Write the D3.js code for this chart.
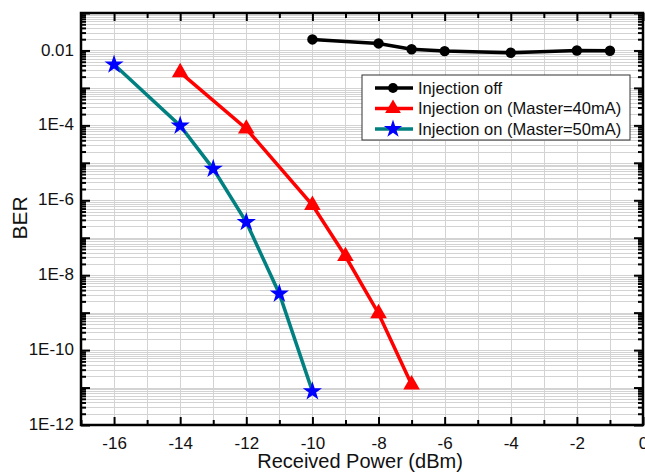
<!DOCTYPE html>
<html lang="en">
<head>
    <meta charset="UTF-8">
    <title>BER vs received power</title>
    <script src="https://d3js.org/d3.v7.min.js"></script>
    <style>
        body { margin: 0; background: #fff; }
        text { font-family: "Liberation Sans", Arial, sans-serif; fill: #111; }
    </style>
</head>
<body>
<svg width="645" height="473"></svg>

<script>
    // data
    var offPower = [-10, -8, -7, -6, -4, -2, -1];
    var offBer = [0.0197, 0.0154, 0.0108, 0.0096, 0.0087, 0.0100, 0.0098];

    var m40Power = [-14, -12, -10, -9, -8, -7];
    var m40Ber = [2.6e-3, 8.1e-5, 7.4e-7, 3.2e-8, 9.5e-10, 1.2e-11];

    var m50Power = [-16, -14, -13, -12, -11, -10];
    var m50Ber = [4.2e-3, 9.8e-5, 6.9e-6, 2.6e-7, 3.2e-9, 7.9e-12];

    var xTicks = [-16, -14, -12, -10, -8, -6, -4, -2, 0];
    var yTicks = [1e-2, 1e-4, 1e-6, 1e-8, 1e-10, 1e-12];
    var yTickLabels = ['0.01', '1E-4', '1E-6', '1E-8', '1E-10', '1E-12'];

    var seriesNames = ['Injection off', 'Injection on (Master=40mA)', 'Injection on (Master=50mA)'];
    var seriesColors = ['#000000', '#ff0000', '#008080'];
    var markerColors = ['#000000', '#ff0000', '#0000ff'];
    var markerTypes = [d3.symbolCircle, d3.symbolTriangle, d3.symbolStar];
    var markerSizes = [85, 120, 115];

    var svg = d3.select('svg');
    var pLeft = 81, pRight = 643, pTop = 13, pBottom = 425;

    var x = d3.scaleLinear().domain([-17, 0]).range([pLeft, pRight]);
    var y = d3.scaleLog().domain([1e-12, 0.1]).range([pBottom, pTop]);

    // minor values
    var xMinor = d3.range(-17, 1, 1);
    var yMinor = [];
    for (var e = -12; e < -1; e++) {
        for (var k = 1; k < 10; k++) yMinor.push(k * Math.pow(10, e));
    }
    var yMajor = d3.range(-12, 0).map(function (p) { return Math.pow(10, p); });

    // grid
    var grid = svg.append('g').attr('stroke', '#d3d3d3').attr('stroke-width', 1);
    grid.selectAll('.gx').data(xMinor).enter().append('line')
        .attr('x1', function (d) { return Math.round(x(d)) + 0.5; })
        .attr('x2', function (d) { return Math.round(x(d)) + 0.5; })
        .attr('y1', pTop).attr('y2', pBottom);
    grid.selectAll('.gy').data(yMinor).enter().append('line')
        .attr('x1', pLeft).attr('x2', pRight)
        .attr('y1', function (d) { return Math.round(y(d)) + 0.5; })
        .attr('y2', function (d) { return Math.round(y(d)) + 0.5; });

    // axes, ticks pointing inward
    function tickAxis(axis, tf) {
        return svg.append('g').attr('transform', tf).call(axis)
            .call(function (g) { g.select('.domain').remove(); })
            .call(function (g) { g.selectAll('line').attr('stroke', '#000').attr('stroke-width', 2); });
    }

    var xMinorVals = d3.range(-17, 1, 2);

    tickAxis(d3.axisBottom(x).tickValues(xMinorVals).tickSize(-5).tickFormat(''), 'translate(0,' + pBottom + ')');
    tickAxis(d3.axisBottom(x).tickValues(xTicks).tickSize(-8).tickPadding(12)
        .tickFormat(function (d) { return d; }), 'translate(0,' + pBottom + ')')
        .selectAll('text').attr('font-size', 17).attr('fill', '#111')
        .attr('font-family', '"Liberation Sans", Arial, sans-serif');
    tickAxis(d3.axisTop(x).tickValues(xMinorVals).tickSize(-5).tickFormat(''), 'translate(0,' + pTop + ')');
    tickAxis(d3.axisTop(x).tickValues(xTicks).tickSize(-8).tickFormat(''), 'translate(0,' + pTop + ')');

    var yMinorOnly = yMinor.filter(function (d, i) { return i % 9 !== 0; });
    tickAxis(d3.axisLeft(y).tickValues(yMinorOnly).tickSize(-5).tickFormat(''), 'translate(' + pLeft + ',0)');
    tickAxis(d3.axisLeft(y).tickValues(yMajor).tickSize(-9).tickFormat(''), 'translate(' + pLeft + ',0)');
    tickAxis(d3.axisRight(y).tickValues(yMinorOnly).tickSize(-5).tickFormat(''), 'translate(' + pRight + ',0)');
    tickAxis(d3.axisRight(y).tickValues(yMajor).tickSize(-9).tickFormat(''), 'translate(' + pRight + ',0)');

    svg.append('g').selectAll('text').data(yTicks).enter().append('text')
        .attr('x', pLeft - 7).attr('y', function (d) { return y(d); })
        .attr('dy', '0.3em').attr('text-anchor', 'end').attr('font-size', 17)
        .text(function (d, i) { return yTickLabels[i]; });

    // frame
    svg.append('rect').attr('x', pLeft).attr('y', pTop)
        .attr('width', pRight - pLeft).attr('height', pBottom - pTop)
        .attr('fill', 'none').attr('stroke', '#000').attr('stroke-width', 2.5);

    // titles
    svg.append('text').attr('x', 360).attr('y', 468).attr('text-anchor', 'middle')
        .attr('font-size', 20).text('Received Power (dBm)');
    svg.append('text').attr('transform', 'translate(27,218) rotate(-90)')
        .attr('text-anchor', 'middle').attr('font-size', 21).text('BER');

    // series
    var series = [
        d3.zip(offPower, offBer),
        d3.zip(m40Power, m40Ber),
        d3.zip(m50Power, m50Ber)
    ];
    var line = d3.line().x(function (d) { return x(d[0]); }).y(function (d) { return y(d[1]); });

    series.forEach(function (s, i) {
        svg.append('path').datum(s).attr('d', line).attr('fill', 'none')
            .attr('stroke', seriesColors[i]).attr('stroke-width', 3.5);
        svg.append('g').selectAll('path').data(s).enter().append('path')
            .attr('transform', function (d) { return 'translate(' + x(d[0]) + ',' + y(d[1]) + ')'; })
            .attr('d', d3.symbol().type(markerTypes[i]).size(markerSizes[i]))
            .attr('fill', markerColors[i]);
    });

    // legend
    var lg = svg.append('g').attr('transform', 'translate(362,75)');
    lg.append('rect').attr('width', 268).attr('height', 65)
        .attr('fill', '#fff').attr('stroke', '#333').attr('stroke-width', 1);
    seriesNames.forEach(function (name, i) {
        var yy = 13 + i * 20.5;
        lg.append('line').attr('x1', 13).attr('x2', 51).attr('y1', yy).attr('y2', yy)
            .attr('stroke', seriesColors[i]).attr('stroke-width', 3.5);
        lg.append('path').attr('transform', 'translate(31,' + yy + ')')
            .attr('d', d3.symbol().type(markerTypes[i]).size(markerSizes[i] * 0.9))
            .attr('fill', markerColors[i]);
        lg.append('text').attr('x', 56).attr('y', yy).attr('dy', '0.35em')
            .attr('font-size', 16.5).text(name);
    });
</script>
</body>
</html>
